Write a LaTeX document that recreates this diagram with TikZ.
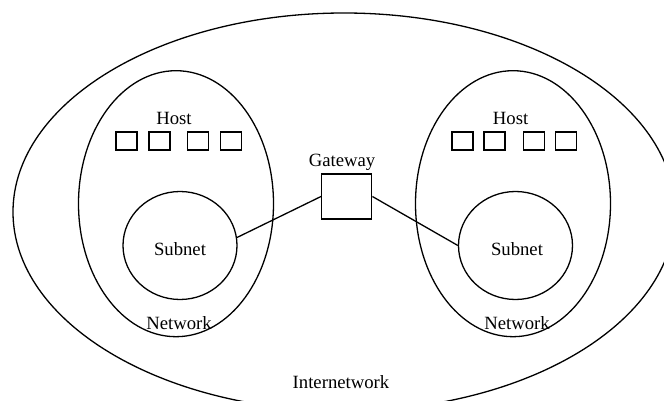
\documentclass[tikz,border=0pt]{standalone}
\usepackage{fontspec}
\setmainfont{Liberation Serif}
\usetikzlibrary{shapes.geometric}
\begin{document}
\begin{tikzpicture}[x=1pt,y=-1pt,
  oval/.style={draw,ellipse,line width=1.3pt,inner sep=0pt},
  hostbox/.style={draw,rectangle,line width=1.6pt,minimum width=21pt,minimum height=18pt,inner sep=0pt},
  gwbox/.style={draw,rectangle,line width=1.4pt,minimum width=50pt,minimum height=45pt,inner sep=0pt},
  lbl/.style={inner sep=0pt,anchor=base,font=\fontsize{18.7pt}{20pt}\selectfont},
  link/.style={line width=1.3pt}]
\useasboundingbox (0,0) rectangle (664,401);
\clip (0,0) rectangle (664,401);
% internetwork
\node[oval,minimum width=662pt,minimum height=398pt] (inet) at (344,212) {};
% networks
\node[oval,minimum width=195pt,minimum height=266pt] (netL) at (176,203.7) {};
\node[oval,minimum width=195pt,minimum height=266pt] (netR) at (513,203.7) {};
% subnets
\node[oval,minimum width=114pt,minimum height=108pt] (subL) at (180,245.5) {};
\node[oval,minimum width=114pt,minimum height=108pt] (subR) at (515.5,245.5) {};
% hosts
\node[hostbox] (hL1) at (126.7,141) {};
\node[hostbox] (hL2) at (159.5,141) {};
\node[hostbox] (hL3) at (197.8,141) {};
\node[hostbox] (hL4) at (230.8,141) {};
\node[hostbox] (hR1) at (462.3,141) {};
\node[hostbox] (hR2) at (494.5,141) {};
\node[hostbox] (hR3) at (534,141) {};
\node[hostbox] (hR4) at (566,141) {};
% gateway
\node[gwbox] (gw) at (346.7,196.5) {};
% labels
\node[lbl] (hostL) at (174,124.5) {Host};
\node[lbl] (hostR) at (510.6,124.5) {Host};
\node[lbl] (gwlbl) at (342,166.5) {Gateway};
\node[lbl] (subLlbl) at (180,255) {Subnet};
\node[lbl] (subRlbl) at (517,255) {Subnet};
\node[lbl] (netLlbl) at (179,329) {Network};
\node[lbl] (netRlbl) at (517,329) {Network};
\node[lbl] (inetlbl) at (341,388) {Internetwork};
% links
\draw[link] (subL.8) -- (gw.west);
\draw[link] (gw.east) -- (subR.west);
\end{tikzpicture}
\end{document}
